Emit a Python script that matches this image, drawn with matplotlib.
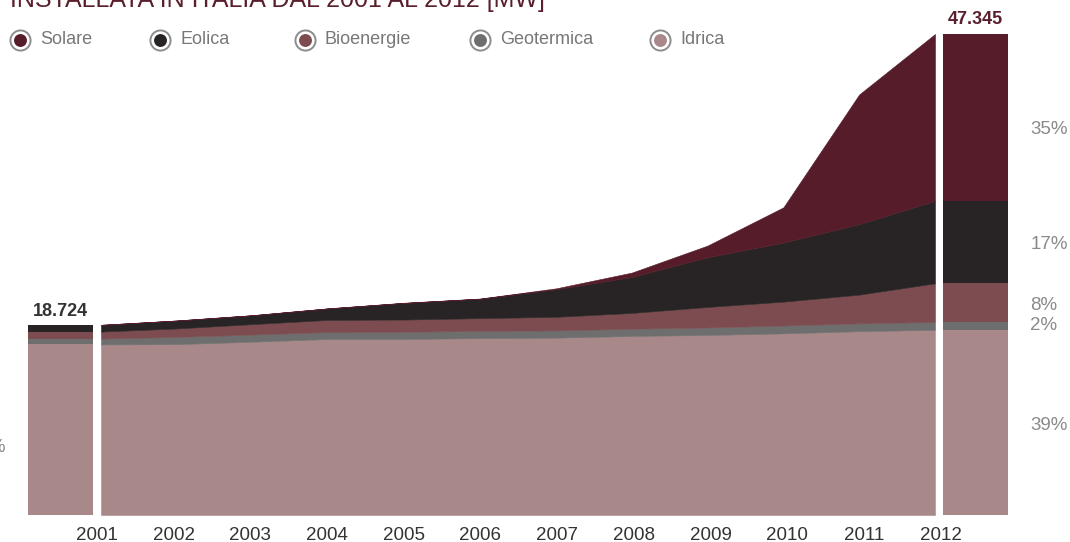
import numpy as np
import matplotlib
matplotlib.use('Agg')
import matplotlib.pyplot as plt
from matplotlib.lines import Line2D

# Data (MW), potenza installata per fonte
years = [2001, 2002, 2003, 2004, 2005, 2006, 2007, 2008, 2009, 2010, 2011, 2012]
idrica = [16792, 16820, 17056, 17326, 17326, 17412, 17459, 17623, 17722, 17876, 18092, 18232]
geotermica = [573, 707, 707, 681, 711, 711, 711, 711, 737, 772, 772, 772]
bioenergie = [688, 836, 1027, 1199, 1201, 1256, 1336, 1555, 2019, 2352, 2825, 3802]
eolica = [664, 780, 874, 1131, 1639, 1908, 2714, 3538, 4898, 5814, 6936, 8119]
solare = [7, 8, 9, 12, 18, 20, 87, 432, 1144, 3470, 12773, 16420]

series_names = ['Idrica', 'Geotermica', 'Bioenergie', 'Eolica', 'Solare']
legend_order = ['Solare', 'Eolica', 'Bioenergie', 'Geotermica', 'Idrica']
title = 'INSTALLATA IN ITALIA DAL 2001 AL 2012 [MW]'

# Style
COLORS = {
	'Solare': '#561c29',
	'Eolica': '#282425',
	'Bioenergie': '#7c4c50',
	'Geotermica': '#6e6e6e',
	'Idrica': '#a9888a',
}
FONT = ['Liberation Sans', 'DejaVu Sans']
W, H = 1070, 542
PX_YEAR = 834.0 / 11
X0_PX = 101
BASE_PX = 515
TOP_PX = 34
BAR_GAP = 8 / PX_YEAR
BAR_W = 65 / PX_YEAR
TICK_PX = 76.7		# tick label spacing (slightly wider than the area)
TICK_SHIFT = -4		# first tick label offset from the area start

plt.rcParams['font.family'] = FONT

values = [np.array(v, dtype=float) for v in (idrica, geotermica, bioenergie, eolica, solare)]
x = np.array(years, dtype=float)
totals = np.sum(values, axis=0)

fig = plt.figure(figsize=(W / 100, H / 100), dpi=100)
ax = fig.add_axes([0, (H - BASE_PX) / H, 1, BASE_PX / H])
ymax = BASE_PX * totals[-1] / (BASE_PX - TOP_PX)
ax.set_xlim(years[0] - X0_PX / PX_YEAR, years[0] + (W - X0_PX) / PX_YEAR)
ax.set_ylim(0, ymax)

# stacked areas and end bars
bottom = np.zeros(len(years))
bar_l = years[0] - BAR_GAP - BAR_W
bar_r = years[-1] + BAR_GAP
for name, v in zip(series_names, values):
	c = COLORS[name]
	ax.fill_between(x, bottom, bottom + v, facecolor=c, edgecolor=c, linewidth=0.4)
	ax.bar(bar_l, v[0], BAR_W, bottom=bottom[0], align='edge', color=c, linewidth=0)
	ax.bar(bar_r, v[-1], BAR_W, bottom=bottom[-1], align='edge', color=c, linewidth=0)
	bottom = bottom + v

# totals above the bars
def fmt(n):
	return '{:,}'.format(int(round(n))).replace(',', '.')

ax.annotate(fmt(totals[0]), (bar_l + BAR_W / 2, totals[0]), xytext=(0, 6.5),
	textcoords='offset points', ha='center', va='baseline', fontsize=13,
	fontweight='bold', color='#333333')
ax.annotate(fmt(totals[-1]), (bar_r + BAR_W / 2, totals[-1]), xytext=(0, 7),
	textcoords='offset points', ha='center', va='baseline', fontsize=13,
	fontweight='bold', color='#5a1f2c')

# percentages at 2012 (right) and 2001 idrica (left, cut off)
bottom = np.zeros(len(years))
for name, v in zip(series_names, values):
	mid = bottom[-1] + v[-1] / 2
	pct = int(round(100 * v[-1] / totals[-1]))
	dy = -9 if name == 'Solare' else -2
	if name == 'Geotermica':
		dy = 0
	ax.annotate('%d%%' % pct, (bar_r + BAR_W, mid), xytext=(16, dy),
		textcoords='offset points', ha='left', va='center', fontsize=13.5,
		color='#8a8a8a', annotation_clip=False)
	if name == 'Idrica':
		pct0 = int(round(100 * v[0] / totals[0]))
		ax.annotate('%d%%' % pct0, (bar_l, bottom[0] + v[0] / 2), xytext=(-16, -13),
			textcoords='offset points', ha='right', va='center', fontsize=13.5,
			color='#8a8a8a', annotation_clip=False)
	bottom = bottom + v

# axes cosmetics
for s in ax.spines.values():
	s.set_visible(False)
ax.set_yticks([])
tick_pos = [years[0] + (i * TICK_PX + TICK_SHIFT) / PX_YEAR for i in range(len(years))]
ax.set_xticks(tick_pos)
ax.set_xticklabels([str(y) for y in years])
ax.tick_params(axis='x', length=0, pad=8.5, labelsize=13.5, labelcolor='#333333')

# title (cut off at top)
fig.text(10 / W, 1 - 7 / H, title, ha='left', va='baseline', fontsize=18,
	color='#5a1f2c')

# legend
leg_x = [20, 160, 305, 480, 660]
leg_y = 1 - 40 / H
for name, lx in zip(legend_order, leg_x):
	fx = lx / W
	fig.add_artist(Line2D([fx], [leg_y], marker='o', markersize=14.5,
		markerfacecolor='white', markeredgecolor='#8c8c8c', markeredgewidth=1.4,
		linestyle='none', transform=fig.transFigure))
	fig.add_artist(Line2D([fx], [leg_y], marker='o', markersize=9.3,
		markerfacecolor=COLORS[name], markeredgewidth=0,
		linestyle='none', transform=fig.transFigure))
	fig.text(fx + 20 / W, leg_y, name, ha='left', va='center', fontsize=13,
		color='#777777')

fig.savefig('out.png', dpi=100)
